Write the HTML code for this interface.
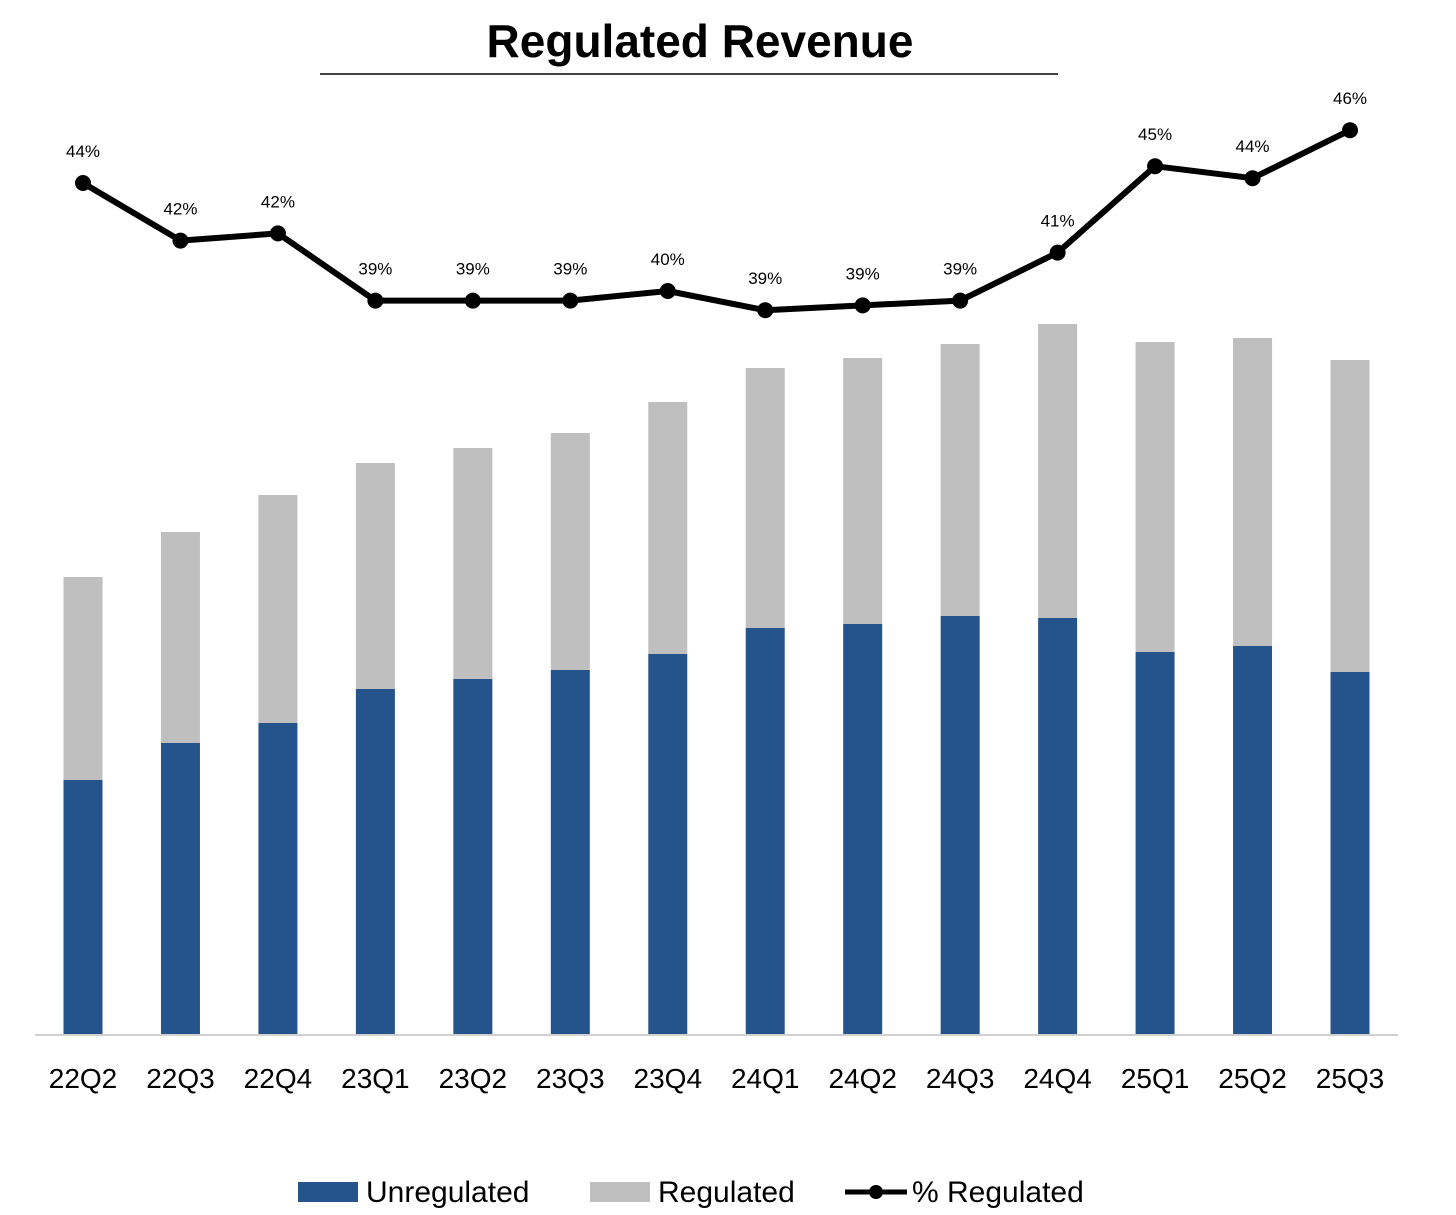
<!DOCTYPE html>
<html><head><meta charset="utf-8"><style>
html,body{margin:0;padding:0;background:#fff;}
svg{display:block;font-family:"Liberation Sans",Carlito,sans-serif;}
</style></head><body>
<svg id="chart" width="1456" height="1215" viewBox="0 0 1456 1215">
<text x="700" y="57" text-anchor="middle" font-size="46" font-weight="bold" fill="#000">Regulated Revenue</text>
<line x1="320" y1="74" x2="1058" y2="74" stroke="#000" stroke-width="1.5"/>
<line x1="35" y1="1035" x2="1398" y2="1035" stroke="#d0d0d0" stroke-width="2"/>
<g id="bars"></g><g id="line"></g><g id="xlabels"></g>
<g>
<rect x="298" y="1182" width="60" height="20" fill="#25548c"/>
<text x="366" y="1202" font-size="30" fill="#000">Unregulated</text>
<rect x="590" y="1182" width="60" height="20" fill="#bfbfbf"/>
<text x="658" y="1202" font-size="30" fill="#000">Regulated</text>
<line x1="845" y1="1192" x2="907" y2="1192" stroke="#000" stroke-width="5"/>
<circle cx="876" cy="1192" r="7" fill="#000"/>
<text x="912" y="1202" font-size="30" fill="#000">% Regulated</text>
</g>
</svg>
<script>
const categories=["22Q2","22Q3","22Q4","23Q1","23Q2","23Q3","23Q4","24Q1","24Q2","24Q3","24Q4","25Q1","25Q2","25Q3"];
const unregulated=[254,291,311,345,355,364,380,406,410,418,416,382,388,362];
const regulated=[203,211,228,226,231,237,252,260,266,272,294,310,308,312];
const pctRegulated=[44.1,41.7,42.0,39.2,39.2,39.2,39.6,38.8,39.0,39.2,41.2,44.8,44.3,46.3];
const pctLabels=["44%","42%","42%","39%","39%","39%","40%","39%","39%","39%","41%","45%","44%","46%"];
const NS="http://www.w3.org/2000/svg";
const xPos=i=>83+i*(1350-83)/(categories.length-1);
const yVal=v=>1034-v;
const yPct=p=>183-(p-44.1)*24;
const bars=document.getElementById('bars'),lineG=document.getElementById('line'),xl=document.getElementById('xlabels');
function mk(tag,attrs,parent){const e=document.createElementNS(NS,tag);for(const k in attrs)e.setAttribute(k,attrs[k]);parent.appendChild(e);return e;}
categories.forEach((c,i)=>{
 const x=xPos(i)-19.5;
 const u=mk('rect',{x:x,y:yVal(unregulated[i]),width:39,height:unregulated[i],fill:'#25548c'},bars);
 
 
 const r=mk('rect',{x:x,y:yVal(unregulated[i]+regulated[i]),width:39,height:regulated[i],fill:'#bfbfbf'},bars);
 
 
 const t=mk('text',{x:xPos(i),y:1088,'text-anchor':'middle','font-size':28,fill:'#000'},xl);
 t.textContent=c;
 
 
});
const pts=pctRegulated.map((p,i)=>xPos(i)+','+yPct(p)).join(' ');
const pl=mk('polyline',{points:pts,fill:'none',stroke:'#000','stroke-width':6,'stroke-linejoin':'round'},lineG);


pctRegulated.forEach((p,i)=>{
 const c=mk('circle',{cx:xPos(i),cy:yPct(p),r:8,fill:'#000'},lineG);
 
 
 const t=mk('text',{x:xPos(i),y:yPct(p)-26,'text-anchor':'middle','font-size':17,fill:'#000'},lineG);
 t.textContent=pctLabels[i];
 
 
});
</script>
</body></html>
